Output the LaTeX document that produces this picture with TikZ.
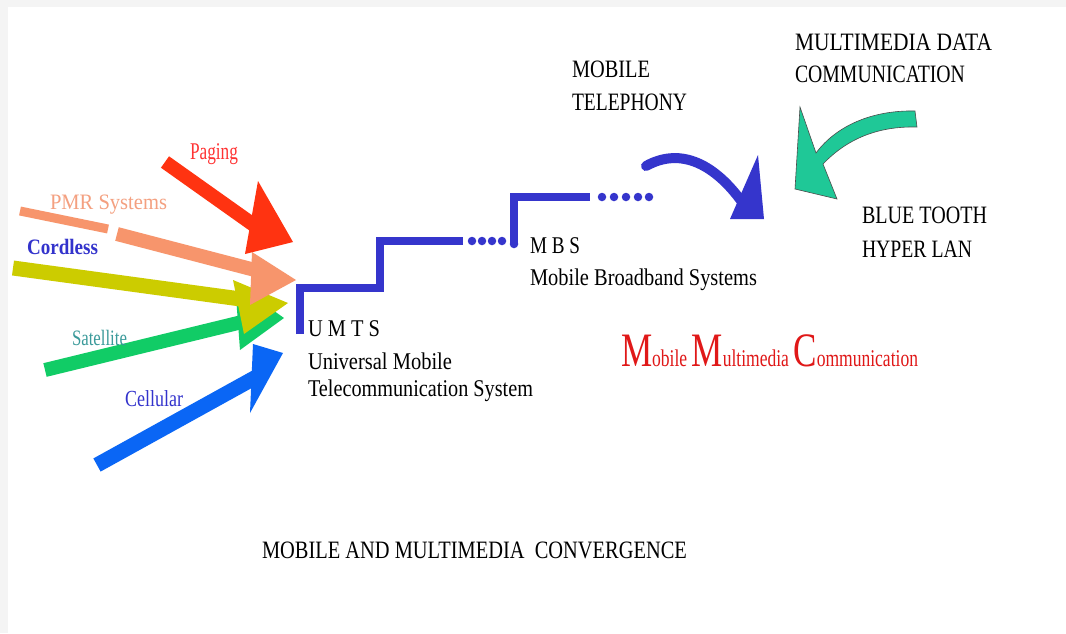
\documentclass[tikz,border=0pt]{standalone}
\usepackage{fontspec}
\setmainfont{Liberation Serif}
\usepackage{graphicx}
\newcommand\fitw[2]{\resizebox{#1}{\height}{#2}}
\newcommand\bigc[1]{{\fontsize{48}{48}\selectfont #1}}
\definecolor{cRed}{HTML}{FF3311}
\definecolor{cSalmon}{HTML}{F7956C}
\definecolor{cYellow}{HTML}{CCCC00}
\definecolor{cGreen}{HTML}{11CC66}
\definecolor{cBlue}{HTML}{0A66F5}
\definecolor{cStair}{HTML}{3535CC}
\definecolor{cTeal}{HTML}{1FC897}
\definecolor{cPaging}{HTML}{FF3333}
\definecolor{cPMR}{HTML}{F4A080}
\definecolor{cDkBlue}{HTML}{3333CC}
\definecolor{cSat}{HTML}{3A9A9A}
\definecolor{cMMC}{HTML}{E01818}
\definecolor{cGrid}{HTML}{F4F4F4}
\tikzset{
  lbl/.style={anchor=base west, inner sep=0pt, outer sep=0pt},
  shaft/.style={line width=#1},
  stair/.style={draw=cStair, line width=8pt},
  sdot/.style={fill=cStair, circle, inner sep=0pt, minimum size=8.5pt},
  txt/.style={lbl, font=\fontsize{24}{24}\selectfont}
}
\begin{document}
\begin{tikzpicture}[x=1pt,y=-1pt]
\useasboundingbox (0,0) rectangle (1066,633);
\fill[cGrid] (0,0) rectangle (1066,633);
\fill[white] (8,7) rectangle (1066,633);

% ---- converging arrows ----
% green (satellite)
\draw[cGreen, shaft=14pt] (45,370) -- (242,322);
\fill[cGreen] (235,283) -- (284,318) -- (240,350) -- cycle;
% yellow (cordless)
\draw[cYellow, shaft=15pt] (13,268) -- (248,300);
\fill[cYellow] (233,280) -- (288,303) -- (244,334) -- cycle;
% salmon (PMR)
\draw[cSalmon, shaft=9pt] (20,211) -- (108,229);
\draw[cSalmon, shaft=14pt] (117,234) -- (255,270);
\fill[cSalmon] (252,252) -- (296,280) -- (250,305) -- cycle;
% red (paging)
\draw[cRed, shaft=14pt] (165,162) -- (258,228);
\fill[cRed] (258,181) -- (293,242) -- (245,254) -- cycle;
% blue (cellular)
\draw[cBlue, shaft=15pt] (97,465) -- (258,376);
\fill[cBlue] (253,344) -- (283,353) -- (250,413) -- cycle;

% ---- labels of converging arrows ----
\node[lbl, text=cPaging, font=\fontsize{24}{24}\selectfont] (paging) at (190,159) {\fitw{48pt}{Paging}};
\node[lbl, text=cPMR, font=\fontsize{22}{22}\selectfont] (pmr) at (50,209) {\fitw{117pt}{PMR Systems}};
\node[lbl, text=cDkBlue, font=\bfseries\fontsize{22}{22}\selectfont] (cordless) at (27,254) {\fitw{71pt}{Cordless}};
\node[lbl, text=cSat, font=\fontsize{22}{22}\selectfont] (sat) at (72,345) {\fitw{55pt}{Satellite}};
\node[lbl, text=cDkBlue, font=\fontsize{23}{23}\selectfont] (cell) at (125,406) {\fitw{58pt}{Cellular}};

% ---- staircase ----
\coordinate (s0) at (300,334);
\coordinate (s1) at (300,288);
\coordinate (s2) at (380,288);
\coordinate (s3) at (380,241);
\coordinate (s4) at (463,241);
\draw[stair] (s0) -- (s1) -- (s2) -- (s3) -- (s4);
\foreach \x in {472,482,492,502} \node[sdot] at (\x,241) {};
\coordinate (t0) at (514,244);
\coordinate (t1) at (514,197);
\coordinate (t2) at (590,197);
\draw[stair] (t0) -- (t1) -- (t2);
\node[sdot] at (514,244) {};
\foreach \x in {602,614,626,638,649} \node[sdot] at (\x,197) {};

% ---- curved blue arrow ----
\draw[cStair, line width=10pt, line cap=round] (646,166) .. controls (682,146) and (716,166) .. (742,202);
\fill[cStair] (758,155) -- (764,219) -- (730,219) -- cycle;

% ---- curved green arrow ----
\filldraw[fill=cTeal, draw=black!70, line width=0.6pt]
  (816,153) .. controls (836,126) and (872,110) .. (915,111)
  -- (917,127) .. controls (876,126) and (846,140) .. (823,164)
  -- (837,199) -- (795,189) -- (800,107) -- cycle;

% ---- text blocks ----
\node[txt] (umts) at (308,336) {\fitw{72pt}{U M T S}};
\node[txt] (umts2) at (308,369) {\fitw{144pt}{Universal Mobile}};
\node[txt] (umts3) at (308,396) {\fitw{225pt}{Telecommunication System}};

\node[txt] (mbs) at (530,253) {\fitw{50pt}{M B S}};
\node[txt] (mbs2) at (530,285) {\fitw{227pt}{Mobile Broadband Systems}};

\node[txt, font=\fontsize{25}{25}\selectfont] (mob) at (572,77) {\fitw{78pt}{MOBILE}};
\node[txt, font=\fontsize{25}{25}\selectfont] (tel) at (572,110) {\fitw{115pt}{TELEPHONY}};

\node[txt, font=\fontsize{25}{25}\selectfont] (mmd) at (795,50) {\fitw{197pt}{MULTIMEDIA DATA}};
\node[txt, font=\fontsize{25}{25}\selectfont] (comm) at (795,82) {\fitw{170pt}{COMMUNICATION}};

\node[txt, font=\fontsize{25}{25}\selectfont] (bt) at (862,223) {\fitw{125pt}{BLUE TOOTH}};
\node[txt, font=\fontsize{25}{25}\selectfont] (hl) at (862,257) {\fitw{110pt}{HYPER LAN}};

\node[lbl, text=cMMC, font=\fontsize{24}{24}\selectfont] (mmc) at (621,366)
  {\fitw{297pt}{\bigc{M}obile\ \bigc{M}ultimedia\ \bigc{C}ommunication}};

\node[txt, font=\fontsize{25}{25}\selectfont] (conv) at (262,558) {\fitw{425pt}{MOBILE AND MULTIMEDIA\ \ CONVERGENCE}};
\end{tikzpicture}
\end{document}
